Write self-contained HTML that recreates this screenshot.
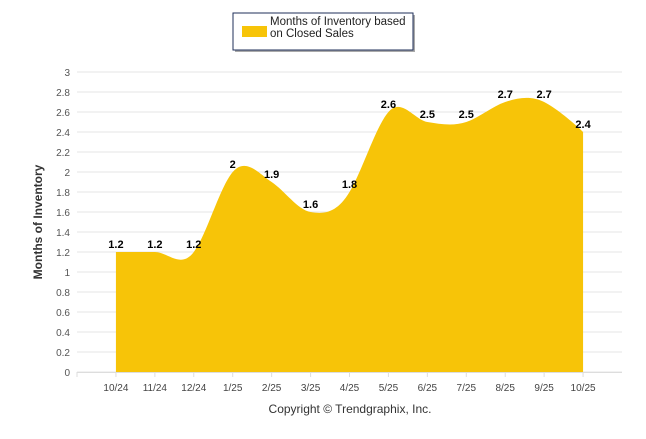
<!DOCTYPE html>
<html><head><meta charset="utf-8"><style>
body{margin:0;background:#fff;font-family:"Liberation Sans",sans-serif}
svg text{font-family:"Liberation Sans",sans-serif}
</style></head><body>
<svg id="c" width="646" height="434" xmlns="http://www.w3.org/2000/svg">
<g id="legend">
<rect x="235" y="15" width="180" height="37" fill="#555" opacity="0.5"/>
<rect x="233" y="13" width="180" height="37" fill="#fff" stroke="#1f2f5a" stroke-width="1"/>
<rect x="242" y="26" width="25" height="11" fill="#f7c408"/>
<text x="270" y="25" font-size="11.5" fill="#222">Months of Inventory based</text>
<text x="270" y="37" font-size="11.5" fill="#222">on Closed Sales</text>
</g>
<g id="grid"></g><g id="area"></g><g id="labels"></g><g id="axes"></g>
<text x="0" y="0" transform="translate(42,222) rotate(-90)" text-anchor="middle" font-size="12" font-weight="bold" fill="#333">Months of Inventory</text>
<text x="350" y="413" text-anchor="middle" font-size="12" fill="#333">Copyright © Trendgraphix, Inc.</text>
</svg>
<script>
const categories=["10/24","11/24","12/24","1/25","2/25","3/25","4/25","5/25","6/25","7/25","8/25","9/25","10/25"];
const values=[1.2,1.2,1.2,2,1.9,1.6,1.8,2.6,2.5,2.5,2.7,2.7,2.4];
const yTicks=[0,0.2,0.4,0.6,0.8,1,1.2,1.4,1.6,1.8,2,2.2,2.4,2.6,2.8,3];
const NS="http://www.w3.org/2000/svg";
const X0=77,X1=622,Y0=372,Y1=72,YMAX=3;
const step=(X1-X0)/(categories.length+1);
const xs=i=>X0+step*(i+1);
const ys=v=>Y0-(v/YMAX)*(Y0-Y1);
function mk(t,a,p){const e=document.createElementNS(NS,t);for(const k in a)e.setAttribute(k,a[k]);p.appendChild(e);return e;}
const grid=document.getElementById('grid'),axes=document.getElementById('axes');
yTicks.forEach(v=>{
 const l=mk('line',{x1:X0,x2:X1,y1:ys(v),y2:ys(v),stroke:'#e6e6e6'},grid);
 
 
 const t=mk('text',{x:70,y:ys(v)+4,'text-anchor':'end','font-size':10,fill:'#555'},axes);
 t.textContent=String(v);
 
 
});
mk('line',{x1:X0,x2:X1,y1:Y0+0.5,y2:Y0+0.5,stroke:'#ddd'},axes);
for(let i=0;i<=categories.length;i++){mk('line',{x1:X0+step*i,x2:X0+step*i,y1:Y0,y2:Y0+5,stroke:'#ddd'},axes);}
categories.forEach((c,i)=>{
 const t=mk('text',{x:xs(i),y:391,'text-anchor':'middle','font-size':10,fill:'#444'},axes);
 t.textContent=c;
 
 
});
const pts=values.map((v,i)=>[xs(i),ys(v)]);
let d=`M${pts[0][0]},${Y0} L${pts[0][0]},${pts[0][1]}`;
const tk=0.5;
for(let i=0;i<pts.length-1;i++){
 const p0=pts[Math.max(0,i-1)],p1=pts[i],p2=pts[i+1],p3=pts[Math.min(pts.length-1,i+2)];
 const c1=[p1[0]+(p2[0]-p0[0])*tk/3,p1[1]+(p2[1]-p0[1])*tk/3*1.3];
 const c2=[p2[0]-(p3[0]-p1[0])*tk/3,p2[1]-(p3[1]-p1[1])*tk/3*1.3];
 d+=` C${c1[0]},${c1[1]} ${c2[0]},${c2[1]} ${p2[0]},${p2[1]}`;
}
d+=` L${pts[pts.length-1][0]},${Y0} Z`;
const a=mk('path',{d:d,fill:'#f7c408'},document.getElementById('area'));


const lab=document.getElementById('labels');
values.forEach((v,i)=>{
 const t=mk('text',{x:xs(i),y:ys(v)-4,'text-anchor':'middle','font-size':11,'font-weight':'bold',fill:'#000'},lab);
 t.textContent=String(v);
 
 
});
</script>
</body></html>
